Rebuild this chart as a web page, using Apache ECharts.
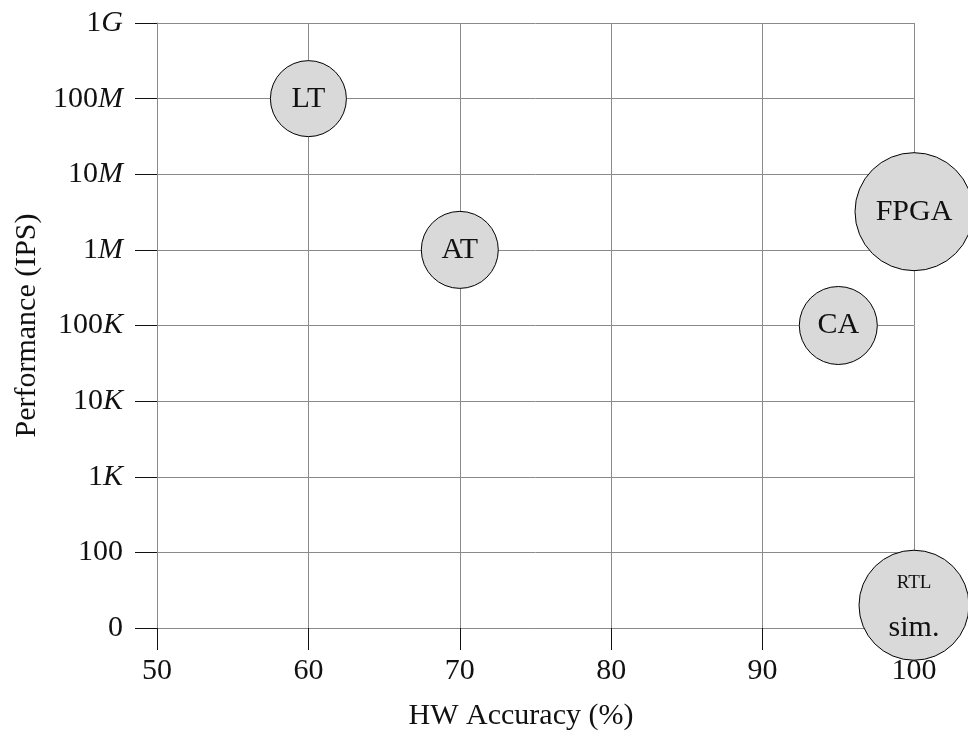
<!DOCTYPE html>
<html>
<head>
<meta charset="utf-8">
<script src="https://cdn.jsdelivr.net/npm/echarts@6/dist/echarts.min.js"></script>
<style>
html,body{margin:0;padding:0;background:#fff;}
#c{width:968px;height:735px;}
</style>
</head>
<body>
<div id="c"></div>
<script>
// Data
const names = ['LT', 'AT', 'FPGA', 'CA', 'RTL sim.'];
const accuracy = [60, 70, 100, 95, 100];          // HW Accuracy (%)
const performance = [1e8, 1e6, 3.2e6, 1e5, 20];   // IPS
const bubbleSize = [76, 77, 118, 78, 110];        // bubble diameters
const xTicks = [50, 60, 70, 80, 90, 100];
const yTickValues = [10, 1e2, 1e3, 1e4, 1e5, 1e6, 1e7, 1e8, 1e9];
const yTickNums = ['0', '100', '1', '10', '100', '1', '10', '100', '1'];
const yTickUnits = ['', '', 'K', 'K', 'K', 'M', 'M', 'M', 'G'];

const FONT = '"Liberation Serif", "DejaVu Serif", serif';
const FS = 30;
const chart = echarts.init(document.getElementById('c'), null, {renderer: 'canvas'});

function yLabel(v) {
  let best = 0, bd = Infinity;
  yTickValues.forEach((t, i) => {
    const d = Math.abs(Math.log10(v) - Math.log10(t));
    if (d < bd) { bd = d; best = i; }
  });
  if (bd > 0.01) return '';
  return '{n|' + yTickNums[best] + '}' + (yTickUnits[best] ? '{u|' + yTickUnits[best] + '}' : '');
}

const data = names.map((n, i) => ({
  name: n,
  value: [accuracy[i], performance[i]],
  symbolSize: bubbleSize[i]
}));

chart.setOption({
  animation: false,
  backgroundColor: '#fff',
  grid: {left: 157, right: 54, top: 23, bottom: 107, containLabel: false, outerBoundsMode: 'none'},
  xAxis: {
    type: 'value', min: 50, max: 100, interval: 10,
    name: 'HW Accuracy (%)', nameLocation: 'middle', nameGap: 73,
    nameTextStyle: {fontFamily: FONT, fontSize: FS, color: '#111', padding: [0, 29, 0, 0]},
    axisLine: {show: true, lineStyle: {color: '#8a8a8a', width: 1}},
    axisTick: {show: true, inside: false, length: 22, lineStyle: {color: '#111', width: 1}},
    axisLabel: {fontFamily: FONT, fontSize: FS, color: '#111', margin: 28},
    splitLine: {show: true, lineStyle: {color: '#8a8a8a', width: 1}}
  },
  yAxis: {
    type: 'log', logBase: 10, min: 10, max: 1e9, interval: 1,
    name: 'Performance (IPS)', nameLocation: 'middle', nameGap: 109,
    nameTextStyle: {fontFamily: FONT, fontSize: FS, color: '#111'},
    axisLine: {show: true, lineStyle: {color: '#8a8a8a', width: 1}},
    axisTick: {show: true, inside: false, length: 22, lineStyle: {color: '#111', width: 1}},
    axisLabel: {
      margin: 34,
      formatter: yLabel,
      rich: {
        n: {fontFamily: FONT, fontSize: FS, color: '#111'},
        u: {fontFamily: FONT, fontSize: FS, fontStyle: 'italic', color: '#111'}
      }
    },
    splitLine: {show: true, lineStyle: {color: '#8a8a8a', width: 1}}
  },
  series: [{
    type: 'scatter',
    clip: false,
    data: data,
    itemStyle: {color: '#d9d9d9', borderColor: '#000', borderWidth: 1, opacity: 1},
    label: {
      show: true, position: 'inside',
      formatter: p => p.name === 'RTL sim.' ? '{s|RTL}\n{b|sim.}' : '{b|' + p.name + '}',
      rich: {
        b: {fontFamily: FONT, fontSize: FS, color: '#111', lineHeight: 45},
        s: {fontFamily: FONT, fontSize: 19, color: '#111', lineHeight: 45}
      }
    },
    emphasis: {disabled: true}
  }]
});
</script>
</body>
</html>
